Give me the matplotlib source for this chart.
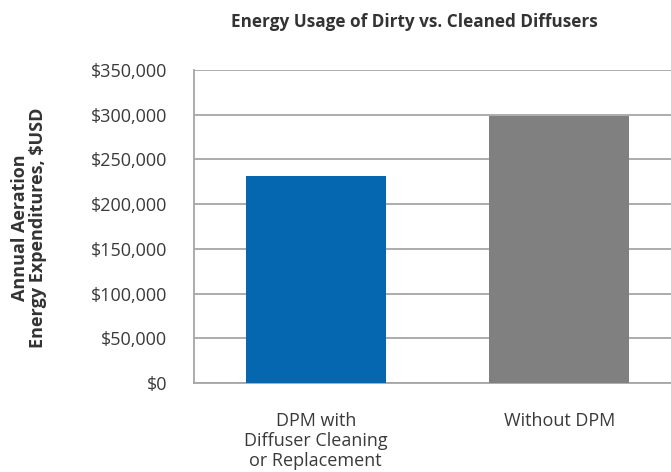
import matplotlib.pyplot as plt
from matplotlib.ticker import FuncFormatter

# data
categories = ['DPM with\nDiffuser Cleaning\nor Replacement', 'Without DPM']
values = [231500, 298500]
bar_colors = ['#0567b0', '#808080']
y_ticks = [0, 50000, 100000, 150000, 200000, 250000, 300000, 350000]

plt.rcParams['font.family'] = ['Open Sans', 'DejaVu Sans']

W, H = 671, 472
fig = plt.figure(figsize=(W / 100, H / 100), dpi=100)
# plot area runs past the right edge in the original
ax = fig.add_axes([194 / W, (H - 383) / H, 487 / W, 313 / H])

x = range(len(categories))
ax.bar(x, values, width=0.575, color=bar_colors, zorder=3)

ax.set_xlim(-0.5, 1.5)
ax.set_ylim(0, 350000)
ax.set_yticks(y_ticks)
ax.yaxis.set_major_formatter(FuncFormatter(lambda v, p: '${:,.0f}'.format(v)))
ax.set_xticks(list(x), labels=categories)
ax.tick_params(axis='both', length=0, labelsize=13, colors='#3a3a3a')
ax.tick_params(axis='y', pad=19.5)
ax.tick_params(axis='x', pad=21)
for lbl in ax.get_xticklabels():
    lbl.set_linespacing(1.13)

ax.grid(axis='y', color='#a6a6a6', linewidth=1.3, zorder=0)
for s in ['top', 'right']:
    ax.spines[s].set_visible(False)
for s in ['left', 'bottom']:
    ax.spines[s].set_color('#a6a6a6')
    ax.spines[s].set_linewidth(1.3)

fig.text(414 / W, 1 - 22 / H, 'Energy Usage of Dirty vs. Cleaned Diffusers',
         ha='center', va='center', fontsize=12.3, fontweight='bold', color='#333333')
fig.text(29 / W, 1 - 228 / H, 'Annual Aeration\nEnergy Expenditures, $USD',
         ha='center', va='center', rotation=90, fontsize=13, fontweight='bold',
         color='#333333', linespacing=1.05)

fig.savefig('out.png', dpi=100)
